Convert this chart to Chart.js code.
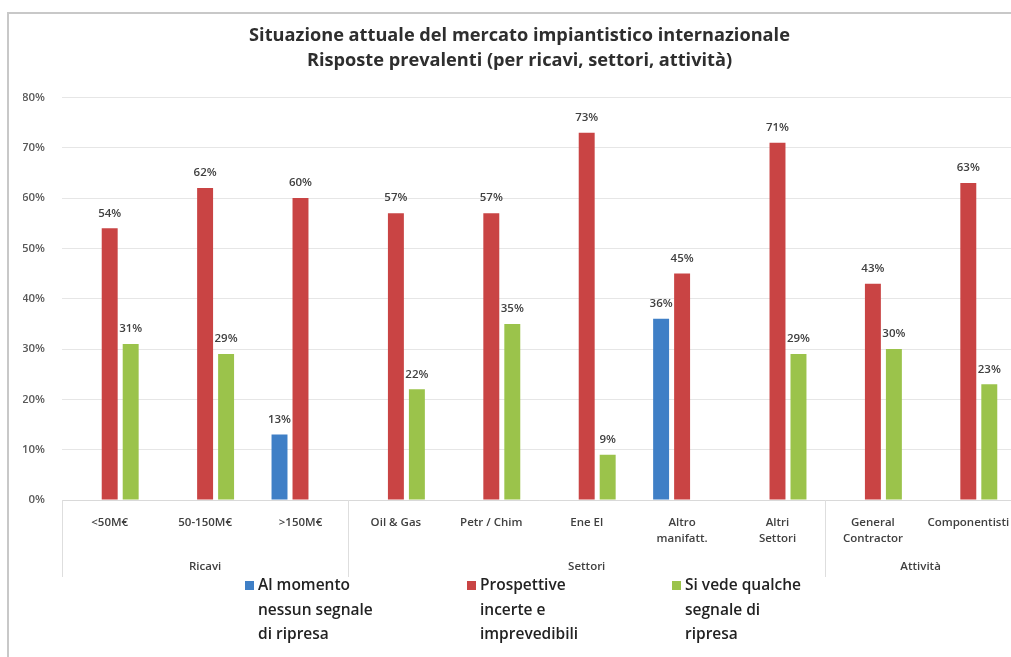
<!DOCTYPE html>
<html lang="it">
<head>
<meta charset="utf-8">
<title>Situazione attuale del mercato impiantistico internazionale</title>
<script src="https://cdn.jsdelivr.net/npm/chart.js@4/dist/chart.umd.min.js"></script>
<style>
  html, body { margin: 0; padding: 0; background: #fff; overflow: hidden; width: 1011px; height: 657px; }
  #frame { position: absolute; left: 7px; top: 12px; width: 1100px; height: 700px;
           border-left: 2px solid #c8c8c8; border-top: 2px solid #c8c8c8; }
  #box { position: absolute; left: 9px; top: 14px; width: 1025px; height: 643px; }
</style>
</head>
<body>
<div id="frame"></div>
<div id="box"><canvas id="chart"></canvas></div>
<script>
// Categories on the lower axis level, grouped by the upper level
const categories = ['<50M€', '50-150M€', '>150M€', 'Oil & Gas', 'Petr / Chim', 'Ene El',
                    ['Altro', 'manifatt.'], ['Altri', 'Settori'], ['General', 'Contractor'], 'Componentisti'];
const groupNames = ['Ricavi', 'Settori', 'Attività'];
const groupSizes = [3, 5, 2];

// Series names (one entry per legend line)
const seriesNames = [
  ['Al momento', 'nessun segnale', 'di ripresa'],
  ['Prospettive', 'incerte e', 'imprevedibili'],
  ['Si vede qualche', 'segnale di', 'ripresa']
];

// Share of answers, in percent
const nessunSegnale      = [null, null, 13, null, null, null, 36, null, null, null];
const prospettiveIncerte = [54, 62, 60, 57, 57, 73, 45, 71, 43, 63];
const qualcheSegnale     = [31, 29, null, 22, 35, 9, null, 29, 30, 23];

// Value axis ticks
const yTicks = [0, 10, 20, 30, 40, 50, 60, 70, 80];

const seriesColors = ['#3f7fc6', '#c94444', '#9bc34b'];
const FONT = '"Open Sans", Lato, sans-serif';
const TEXT = '#404040';

// Percent labels above each bar
const valueLabels = {
  id: 'valueLabels',
  afterDatasetsDraw(chart) {
    const ctx = chart.ctx;
    ctx.save();
    ctx.font = '600 11.5px ' + FONT;
    ctx.fillStyle = TEXT;
    ctx.textAlign = 'center';
    ctx.textBaseline = 'middle';
    chart.data.datasets.forEach((ds, di) => {
      const meta = chart.getDatasetMeta(di);
      meta.data.forEach((bar, i) => {
        const v = ds.data[i];
        if (v === null || v === undefined) return;
        ctx.fillText(v + '%', bar.x, bar.y - 15);
      });
    });
    ctx.restore();
  }
};

// Second axis level: group separators and group names
const groupAxis = {
  id: 'groupAxis',
  afterDraw(chart) {
    const ctx = chart.ctx;
    const x = chart.scales.x;
    const area = chart.chartArea;
    const lineBottom = area.bottom + 77;
    const labelY = area.bottom + 67;
    const edge = i => {
      if (i <= 0) return area.left;
      if (i >= categories.length) return area.right;
      return (x.getPixelForValue(i - 1) + x.getPixelForValue(i)) / 2;
    };
    ctx.save();
    ctx.strokeStyle = '#dedede';
    ctx.lineWidth = 1;
    ctx.font = '600 11.5px ' + FONT;
    ctx.fillStyle = TEXT;
    ctx.textAlign = 'center';
    ctx.textBaseline = 'middle';
    let start = 0;
    groupSizes.forEach((n, g) => {
      const x0 = edge(start), x1 = edge(start + n);
      ctx.beginPath();
      ctx.moveTo(Math.round(x0) + 0.5, area.bottom);
      ctx.lineTo(Math.round(x0) + 0.5, lineBottom);
      ctx.stroke();
      ctx.fillText(groupNames[g], (x0 + x1) / 2, labelY);
      start += n;
    });
    ctx.beginPath();
    ctx.moveTo(Math.round(area.right) + 0.5, area.bottom);
    ctx.lineTo(Math.round(area.right) + 0.5, lineBottom);
    ctx.stroke();
    ctx.restore();
  }
};

// Legend with multi-line entries
const multiLegend = {
  id: 'multiLegend',
  afterDraw(chart) {
    const ctx = chart.ctx;
    const area = chart.chartArea;
    const top = area.bottom + 86;
    const xs = [236, 458, 663];
    ctx.save();
    ctx.font = '600 15.5px ' + FONT;
    ctx.textAlign = 'left';
    ctx.textBaseline = 'middle';
    chart.data.datasets.forEach((ds, di) => {
      ctx.fillStyle = ds.backgroundColor;
      ctx.fillRect(xs[di], top - 5, 9, 9);
      ctx.fillStyle = '#222222';
      seriesNames[di].forEach((line, li) => {
        ctx.fillText(line, xs[di] + 13, top + li * 24.5);
      });
    });
    ctx.restore();
  }
};

new Chart(document.getElementById('chart'), {
  type: 'bar',
  data: {
    labels: categories,
    datasets: [
      { label: seriesNames[0].join(' '), data: nessunSegnale, backgroundColor: seriesColors[0] },
      { label: seriesNames[1].join(' '), data: prospettiveIncerte, backgroundColor: seriesColors[1] },
      { label: seriesNames[2].join(' '), data: qualcheSegnale, backgroundColor: seriesColors[2] }
    ]
  },
  options: {
    responsive: true,
    maintainAspectRatio: false,
    animation: false,
    datasets: { bar: { categoryPercentage: 0.66, barPercentage: 0.76 } },
    layout: { padding: { top: 0, left: 14, right: 18, bottom: 97 } },
    plugins: {
      legend: { display: false },
      tooltip: { enabled: false },
      title: {
        display: true,
        text: ['Situazione attuale del mercato impiantistico internazionale',
               'Risposte prevalenti (per ricavi, settori, attività)'],
        color: '#2e2e2e',
        font: { family: FONT, size: 18.2, weight: 'bold', lineHeight: 1.4 },
        padding: { top: 9, bottom: 23.5 }
      }
    },
    scales: {
      x: {
        grid: { display: false },
        border: { display: true, color: '#d9d9d9' },
        ticks: {
          autoSkip: false, maxRotation: 0, minRotation: 0, padding: 6,
          color: TEXT, font: { family: FONT, size: 11.5, weight: '600', lineHeight: 1.45 }
        },
        afterFit(scale) { scale.height = 60; }
      },
      y: {
        min: yTicks[0],
        max: yTicks[yTicks.length - 1],
        afterBuildTicks(scale) { scale.ticks = yTicks.map(v => ({ value: v })); },
        grid: { color: '#e6e6e6', drawTicks: false },
        border: { display: false },
        ticks: {
          padding: 17,
          color: '#595959',
          font: { family: FONT, size: 11.5, weight: '600' },
          callback: v => v + '%'
        },
        afterFit(scale) { scale.width = 39; }
      }
    }
  },
  plugins: [valueLabels, groupAxis, multiLegend]
});
</script>
</body>
</html>
